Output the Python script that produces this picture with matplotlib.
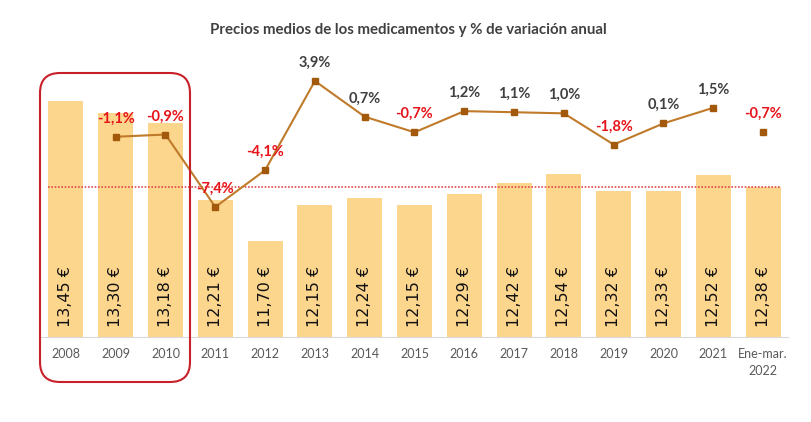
import numpy as np
import matplotlib.pyplot as plt
from matplotlib.patches import FancyBboxPatch

# data
years = ["2008", "2009", "2010", "2011", "2012", "2013", "2014", "2015",
         "2016", "2017", "2018", "2019", "2020", "2021", "Ene-mar.\n2022"]
prices = [13.45, 13.30, 13.18, 12.21, 11.70, 12.15, 12.24, 12.15,
          12.29, 12.42, 12.54, 12.32, 12.33, 12.52, 12.38]
variation = [np.nan, -1.1, -0.9, -7.4, -4.1, 3.9, 0.7, -0.7,
             1.2, 1.1, 1.0, -1.8, 0.1, 1.5, -0.7]
ref_price = 12.38

BAR = "#FDD68E"
LINE = "#BF7A2A"
MARK = "#A3590B"
RED = "#E8141B"
DARK = "#404040"

plt.rcParams["font.family"] = ["Lato", "DejaVu Sans"]

fig = plt.figure(figsize=(8.12, 4.22), dpi=100)
ax = fig.add_axes([41 / 812, (422 - 337) / 422, 747 / 812, 287 / 422])
ax2 = ax.twinx()

x = np.arange(len(years))
ax.bar(x, prices, width=0.7, color=BAR, zorder=1)
ax.set_xlim(-0.5, len(years) - 0.5)
ax.set_ylim(10.5, 10.5 + 287 / 80)

for i, p in enumerate(prices):
    ax.text(i, 10.5 + 0.125, f"{p:.2f} €".replace(".", ","), rotation=90,
            ha="center", va="bottom", fontsize=11.5, color="#111111",
            family="DejaVu Sans")

# reference line at the latest price
ax.hlines(ref_price, -0.35, len(years) - 0.65, color="#E04A4A", lw=1.2,
          ls=(0, (1, 1)), zorder=2)

ax.set_xticks(x)
ax.set_xticklabels(years, fontsize=9, color="#595959", linespacing=1.5)
ax.tick_params(axis="x", length=0, pad=8)
ax.set_yticks([])
for s in ["top", "left", "right"]:
    ax.spines[s].set_visible(False)
ax.spines["bottom"].set_color("#D9D9D9")

# variation line (2009-2021 joined, 2022 standalone)
var = np.array(variation)
ax2.plot(x[1:14], var[1:14], color=LINE, lw=1.5, marker="s", ms=5,
         mfc=MARK, mec=MARK, zorder=3)
ax2.plot(x[14], var[14], ls="none", marker="s", ms=5, mfc=MARK, mec=MARK)
ax2.set_ylim(-212.5 / 11.15, 74.5 / 11.15)
ax2.set_yticks([])
for s in ax2.spines.values():
    s.set_visible(False)

for i in range(1, len(years)):
    v = var[i]
    ax2.annotate(f"{v:.1f}%".replace(".", ","), (i, v), xytext=(0, 8),
                 textcoords="offset points", ha="center", va="bottom",
                 fontsize=10.5, fontweight="bold",
                 color=RED if v < 0 else DARK)

fig.text(408 / 812, 1 - 30 / 422,
         "Precios medios de los medicamentos y % de variación anual",
         ha="center", va="center", fontsize=10.8, fontweight="bold",
         color=DARK)

box = FancyBboxPatch((0.40, 0.40), 1.50, 3.09,
                     boxstyle="round,pad=0,rounding_size=0.2",
                     transform=fig.dpi_scale_trans, fill=False,
                     edgecolor="#C8202A", lw=1.5, clip_on=False)
fig.add_artist(box)

fig.savefig("out.png", dpi=100)
